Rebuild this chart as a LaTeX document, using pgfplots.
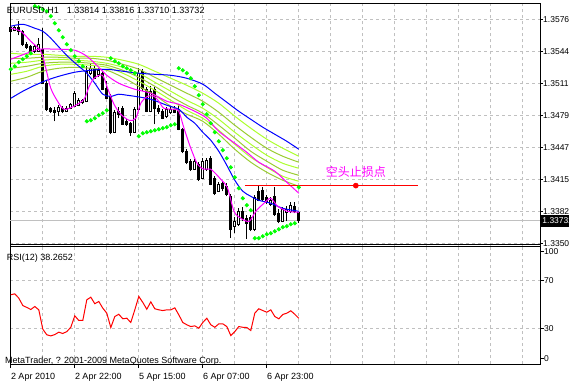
\documentclass[border=0pt]{standalone}
\usepackage{fontspec}
\setmainfont{Liberation Sans}
\newfontfamily\cjk{Noto Sans CJK SC}
\usepackage{pgfplots}
\usepackage{pgfplotstable}
\pgfplotsset{compat=1.18}
\definecolor{mtgrid}{RGB}{192,192,192}
\definecolor{sar}{RGB}{0,255,0}
\definecolor{mag}{RGB}{255,0,255}
\definecolor{gy}{RGB}{173,255,47}
\definecolor{yg}{RGB}{154,205,50}
\definecolor{mtblue}{RGB}{0,0,255}

\pgfplotstableread{
i o h l c
0 1.35685 1.35715 1.35634 1.35644
1 1.35654 1.35705 1.35644 1.35685
2 1.35685 1.35745 1.35604 1.35644
3 1.35644 1.35654 1.35493 1.35513
4 1.35513 1.35533 1.35463 1.35483
5 1.35493 1.35503 1.35402 1.35422
6 1.35442 1.35513 1.35422 1.35493
7 1.35442 1.35574 1.35432 1.35513
8 1.35463 1.35675 1.35110 1.35120
9 1.35120 1.35140 1.34837 1.34857
10 1.34867 1.34877 1.34817 1.34837
11 1.34847 1.34877 1.34736 1.34827
12 1.34837 1.34898 1.34787 1.34877
13 1.34867 1.34888 1.34817 1.34837
14 1.34837 1.34888 1.34827 1.34867
15 1.34867 1.34918 1.34857 1.34908
16 1.34888 1.35039 1.34877 1.35019
17 1.34898 1.34968 1.34888 1.34948
18 1.34928 1.34958 1.34908 1.34948
19 1.34938 1.35291 1.34928 1.35241
20 1.35221 1.35311 1.35200 1.35271
21 1.35271 1.35301 1.35160 1.35170
22 1.35210 1.35271 1.35180 1.35251
23 1.35221 1.35241 1.35049 1.35059
24 1.35069 1.35140 1.34958 1.34968
25 1.34988 1.35009 1.34605 1.34625
26 1.34625 1.34847 1.34615 1.34827
27 1.34837 1.34877 1.34766 1.34807
28 1.34867 1.34888 1.34696 1.34706
29 1.34736 1.34756 1.34686 1.34706
30 1.34716 1.34726 1.34585 1.34625
31 1.34625 1.34877 1.34615 1.34857
32 1.34857 1.35271 1.34847 1.35221
33 1.35241 1.35261 1.35039 1.35069
34 1.35059 1.35079 1.34827 1.34837
35 1.34837 1.35089 1.34827 1.35039
36 1.35059 1.35079 1.34706 1.34867
37 1.34867 1.34898 1.34807 1.34837
38 1.34837 1.34857 1.34756 1.34766
39 1.34787 1.34877 1.34766 1.34857
40 1.34827 1.34877 1.34807 1.34857
41 1.34857 1.34888 1.34817 1.34827
42 1.34857 1.34908 1.34645 1.34655
43 1.34655 1.34666 1.34413 1.34433
44 1.34433 1.34454 1.34302 1.34323
45 1.34333 1.34353 1.34232 1.34252
46 1.34252 1.34353 1.34242 1.34333
47 1.34302 1.34323 1.34131 1.34151
48 1.34161 1.34363 1.34151 1.34333
49 1.34252 1.34363 1.34232 1.34343
50 1.34363 1.34383 1.34090 1.34101
51 1.34161 1.34181 1.33990 1.34010
52 1.34030 1.34121 1.34020 1.34101
53 1.34111 1.34131 1.34030 1.34060
54 1.34080 1.34111 1.33979 1.34000
55 1.33979 1.34000 1.33556 1.33646
56 1.33677 1.33768 1.33606 1.33727
57 1.33697 1.33858 1.33677 1.33828
58 1.33828 1.33868 1.33727 1.33757
59 1.33757 1.33788 1.33546 1.33707
60 1.33768 1.33788 1.33626 1.33646
61 1.33646 1.33990 1.33626 1.33969
62 1.34030 1.34080 1.33929 1.33939
63 1.34040 1.34070 1.33929 1.33949
64 1.33969 1.33990 1.33899 1.33919
65 1.33899 1.33969 1.33879 1.33939
66 1.33979 1.34070 1.33778 1.33798
67 1.33808 1.33848 1.33707 1.33727
68 1.33727 1.33868 1.33717 1.33848
69 1.33818 1.33879 1.33727 1.33848
70 1.33828 1.33919 1.33808 1.33889
71 1.33879 1.33919 1.33808 1.33828
72 1.33814 1.33816 1.33710 1.33732
}\candles

\pgfplotstableread{
i s
0 1.35261
1 1.35291
2 1.35332
3 1.35362
4 1.35392
5 1.35422
6 1.35897
7 1.35886
8 1.35866
9 1.35846
10 1.35796
11 1.35725
12 1.35654
13 1.35584
14 1.35513
15 1.35453
16 1.35392
17 1.35342
18 1.35291
19 1.34736
20 1.34746
21 1.34766
22 1.34797
23 1.34817
24 1.34847
25 1.35372
26 1.35342
27 1.35321
28 1.35291
29 1.35271
30 1.35251
31 1.35221
32 1.34585
33 1.34615
34 1.34625
35 1.34635
36 1.34645
37 1.34655
38 1.34666
39 1.34676
40 1.34696
41 1.34706
42 1.35271
43 1.35251
44 1.35221
45 1.35170
46 1.35089
47 1.34999
48 1.34908
49 1.34807
50 1.34716
51 1.34625
52 1.34534
53 1.34444
54 1.34363
55 1.34272
56 1.34171
57 1.34060
58 1.33959
59 1.33889
60 1.33838
61 1.33556
62 1.33556
63 1.33576
64 1.33596
65 1.33606
66 1.33626
67 1.33646
68 1.33667
69 1.33677
70 1.33697
71 1.33707
72 1.34070
}\sartab

\pgfplotstableread{
i g1 g2 g3 g4 g5 g6
0 1.35422 1.35372 1.35321 1.35271 1.35210 1.35140
4 1.35412 1.35372 1.35332 1.35291 1.35241 1.35180
8 1.35412 1.35382 1.35352 1.35321 1.35291 1.35241
12 1.35402 1.35382 1.35362 1.35332 1.35311 1.35271
16 1.35392 1.35372 1.35352 1.35332 1.35311 1.35281
20 1.35392 1.35372 1.35342 1.35321 1.35301 1.35271
24 1.35382 1.35352 1.35321 1.35301 1.35281 1.35251
28 1.35352 1.35311 1.35281 1.35251 1.35221 1.35180
32 1.35311 1.35261 1.35221 1.35180 1.35140 1.35089
36 1.35241 1.35180 1.35130 1.35089 1.35049 1.34999
40 1.35170 1.35099 1.35039 1.34988 1.34948 1.34888
44 1.35099 1.35019 1.34948 1.34898 1.34847 1.34807
48 1.35019 1.34938 1.34867 1.34817 1.34766 1.34736
52 1.34918 1.34827 1.34756 1.34696 1.34645 1.34605
56 1.34787 1.34696 1.34625 1.34565 1.34504 1.34454
60 1.34666 1.34575 1.34504 1.34433 1.34373 1.34323
64 1.34555 1.34464 1.34393 1.34333 1.34272 1.34222
68 1.34464 1.34383 1.34312 1.34242 1.34181 1.34141
72 1.34383 1.34323 1.34262 1.34191 1.34131 1.34080
}\greens

\pgfplotstableread{
i v
0 58.0
1 58.8
2 55.2
3 49.0
4 47.4
5 45.7
6 48.2
7 45.4
8 29.2
9 24.5
10 23.6
11 24.7
12 26.7
13 25.6
14 27.2
15 30.8
16 40.4
17 36.5
18 36.5
19 53.8
20 56.0
21 50.5
22 52.4
23 46.8
24 42.6
25 30.6
26 39.8
27 41.7
28 37.9
29 38.4
30 34.8
31 45.4
32 56.6
33 51.6
34 45.9
35 52.1
36 46.3
37 45.4
38 44.8
39 45.4
40 45.4
41 47.1
42 41.2
43 34.8
44 32.9
45 31.4
46 32.0
47 30.0
48 34.8
49 38.4
50 32.9
51 30.8
52 33.7
53 33.7
54 31.4
55 23.9
56 27.2
57 31.4
58 30.8
59 30.6
60 28.1
61 42.6
62 46.3
63 44.8
64 43.4
65 45.4
66 39.8
67 37.9
68 41.5
69 42.6
70 44.6
71 41.7
72 38.27
}\rsitab

\begin{document}
\begin{tikzpicture}[x=1pt,y=1pt]
\useasboundingbox (0,0) rectangle (569,385);
\fill[white] (0,0) rectangle (569,385);

\begin{axis}[
  at={(2.5,140)}, anchor=south west,
  scale only axis, width=530pt, height=243pt,
  xmin=-0.2, xmax=132.3, ymin=1.33475, ymax=1.35927,
  clip=false,
  axis line style={line width=1pt},
  xtick={0,8,...,128}, xticklabel={\mbox{}}, xtick style={draw=none},
  ytick={1.33505,1.33825,1.34150,1.34470,1.34795,1.35115,1.35440,1.35760},
  yticklabels={1.33505,1.33825,1.34150,1.34470,1.34795,1.35115,1.35440,1.35760},
  ytick pos=right, yticklabel pos=right,
  tick align=outside, major tick length=3pt,
  ytick style={line width=1pt, black},
  yticklabel style={anchor=west, inner sep=0pt, xshift=0pt, font=\fontsize{8.5}{8.5}\selectfont},
  grid=major,
  grid style={mtgrid, line width=1pt, dash pattern=on 3pt off 3pt},
]
\addplot[mtgrid, line width=1pt, forget plot] coordinates {(-0.2,1.33732) (132.3,1.33732)};
% wicks
\addplot[draw=none, mark=none, forget plot,
  error bars/.cd, y dir=plus, y explicit, error mark=none,
  error bar style={draw=black, line width=1pt}]
  table[x=i, y=l, y error plus expr={\thisrow{h}-\thisrow{l}}] {\candles};
% bodies
\addplot[draw=none, mark=none, forget plot,
  error bars/.cd, y dir=plus, y explicit, error mark=none,
  error bar style={draw=black, line width=3pt}]
  table[x=i, y expr={min(\thisrow{o},\thisrow{c})-0.00005},
        y error plus expr={abs(\thisrow{o}-\thisrow{c})+0.0001}] {\candles};
% white interiors of rising candles
\addplot[draw=none, mark=none, forget plot,
  error bars/.cd, y dir=plus, y explicit, error mark=none,
  error bar style={draw=white, line width=1pt}]
  table[x=i, y expr={min(\thisrow{o},\thisrow{c})+0.00005},
        y error plus expr={ifthenelse(\thisrow{c}>\thisrow{o}, max(\thisrow{c}-\thisrow{o}-0.0001,0), 0)}] {\candles};
% moving average bundle
\addplot[gy, line width=1pt, smooth] table[x=i, y=g1] {\greens};
\addplot[yg, line width=1pt, smooth] table[x=i, y=g2] {\greens};
\addplot[gy, line width=1pt, smooth] table[x=i, y=g3] {\greens};
\addplot[yg, line width=1pt, smooth] table[x=i, y=g4] {\greens};
\addplot[gy, line width=1pt, smooth] table[x=i, y=g5] {\greens};
\addplot[yg, line width=1pt, smooth] table[x=i, y=g6] {\greens};
% blue
\addplot[mtblue, line width=1pt, smooth] coordinates {(0,1.34968)(3,1.35039)(6,1.35099)(9,1.35150)(12,1.35190)(16,1.35231)(20,1.35251)(24,1.35261)(28,1.35241)(32,1.35221)(36,1.35210)(40,1.35200)(44,1.35170)(48,1.35110)(51,1.35019)(54,1.34928)(57,1.34837)(60,1.34756)(63,1.34676)(66,1.34605)(69,1.34534)(72,1.34454)};
\addplot[mtblue, line width=1pt, smooth] coordinates {(0,1.35695)(3,1.35715)(6,1.35675)(8,1.35644)(10,1.35574)(13,1.35442)(15,1.35362)(17,1.35291)(19,1.35221)(21,1.35120)(23,1.35009)(25,1.34988)(27,1.35009)(29,1.34999)(31,1.34988)(35,1.34958)(39,1.34898)(42,1.34857)(44,1.34777)(46,1.34716)(48,1.34625)(50,1.34544)(52,1.34433)(54,1.34292)(56,1.34141)(58,1.34030)(60,1.33979)(62,1.33939)(65,1.33909)(68,1.33858)(72,1.33828)};
% magenta
\addplot[mag, line width=1pt, smooth] coordinates {(0,1.35362)(4,1.35422)(7,1.35463)(12,1.35463)(16,1.35453)(19,1.35392)(22,1.35281)(24,1.35200)(27,1.35120)(31,1.35059)(35,1.35019)(39,1.34938)(42,1.34908)(46,1.34837)(49,1.34766)(52,1.34635)(56,1.34514)(59,1.34423)(62,1.34323)(66,1.34232)(69,1.34121)(72,1.34010)};
\addplot[mag, line width=1pt, smooth] coordinates {(0,1.35675)(2.5,1.35644)(5,1.35543)(7.5,1.35442)(8.75,1.35271)(10,1.35069)(11.7,1.34938)(13.3,1.34857)(15.8,1.34888)(18.3,1.34958)(19.6,1.35089)(20.8,1.35170)(22.9,1.35200)(24.2,1.35069)(25.8,1.34908)(27.5,1.34807)(29.6,1.34746)(31.25,1.34766)(32.5,1.34918)(34.2,1.34988)(35.8,1.34988)(37,1.34938)(38.3,1.34867)(40.8,1.34857)(42,1.34837)(43.3,1.34666)(45,1.34464)(46.7,1.34302)(48.3,1.34252)(50,1.34252)(52.5,1.34151)(54.2,1.34060)(55.8,1.33828)(57.5,1.33757)(59.6,1.33727)(61.25,1.33828)(63.3,1.33909)(65,1.33959)(66.7,1.33879)(69.2,1.33828)(72,1.33818)};
% parabolic SAR
\addplot[only marks, mark=*, mark size=1.9pt, mark options={draw=sar, fill=sar}] table[x=i, y=s] {\sartab};
% stop line
\addplot[red, line width=1.4pt] coordinates {(58.5,1.34087)(101.85,1.34087)};
\addplot[only marks, mark=*, mark size=2.6pt, mark options={draw=red, fill=red}] coordinates {(86.25,1.34087)};
\node[text=mag, font=\cjk\fontsize{12}{12}\selectfont, inner sep=0pt] at (axis cs:86.25,1.34222) {空头止损点};
\coordinate (pbox) at (axis cs:132.3,1.33732);
\end{axis}

\begin{axis}[
  at={(2.5,17.5)}, anchor=south west,
  scale only axis, width=530pt, height=119.5pt,
  xmin=-0.2, xmax=132.3, ymin=0, ymax=100,
  axis line style={line width=1pt},
  xtick={0,16,32,48,64},
  xticklabels={2 Apr 2010,2 Apr 22:00,5 Apr 15:00,6 Apr 07:00,6 Apr 23:00},
  minor xtick={8,24,40,56,72,80,88,96,104,112,120,128},
  minor tick length=0pt,
  ytick={30,70}, yticklabels={30,70},
  extra y ticks={5,94.5}, extra y tick labels={0,100},
  extra y tick style={grid=none},
  ytick pos=right, yticklabel pos=right, xtick pos=left,
  tick align=outside, major tick length=4pt,
  tick style={line width=1pt, black},
  yticklabel style={anchor=west, inner sep=0pt, xshift=0pt, font=\fontsize{8.5}{8.5}\selectfont},
  xticklabel style={anchor=north west, inner sep=0pt, yshift=-5pt, font=\fontsize{9}{9}\selectfont},
  xmajorgrids, xminorgrids, ymajorgrids,
  major grid style={mtgrid, line width=1pt, dash pattern=on 3pt off 3pt},
  minor grid style={mtgrid, line width=1pt, dash pattern=on 3pt off 3pt},
]
\addplot[red, line width=1pt] table[x=i, y=v] {\rsitab};
\end{axis}

\fill[black] ([xshift=0.8pt,yshift=-6.25pt]pbox) rectangle ([xshift=36.5pt,yshift=6.25pt]pbox);
\node[anchor=west, text=white, inner sep=0pt, font=\fontsize{8.5}{8.5}\selectfont] at ([xshift=2.2pt]pbox) {1.33732};
\node[anchor=base west, inner sep=0pt, font=\fontsize{9}{9}\selectfont] at (6.7,371)
  {EURUSD,H1\hspace{8pt}1.33814 1.33816 1.33710 1.33732};
\node[anchor=base west, inner sep=0pt, font=\fontsize{9}{9}\selectfont] at (6.7,124.5)
  {RSI(12) 38.2652};
\node[anchor=base west, inner sep=0pt, font=\fontsize{9}{9}\selectfont] at (5,22)
  {MetaTrader, ? 2001-2009 MetaQuotes Software Corp.};
\end{tikzpicture}
\end{document}
